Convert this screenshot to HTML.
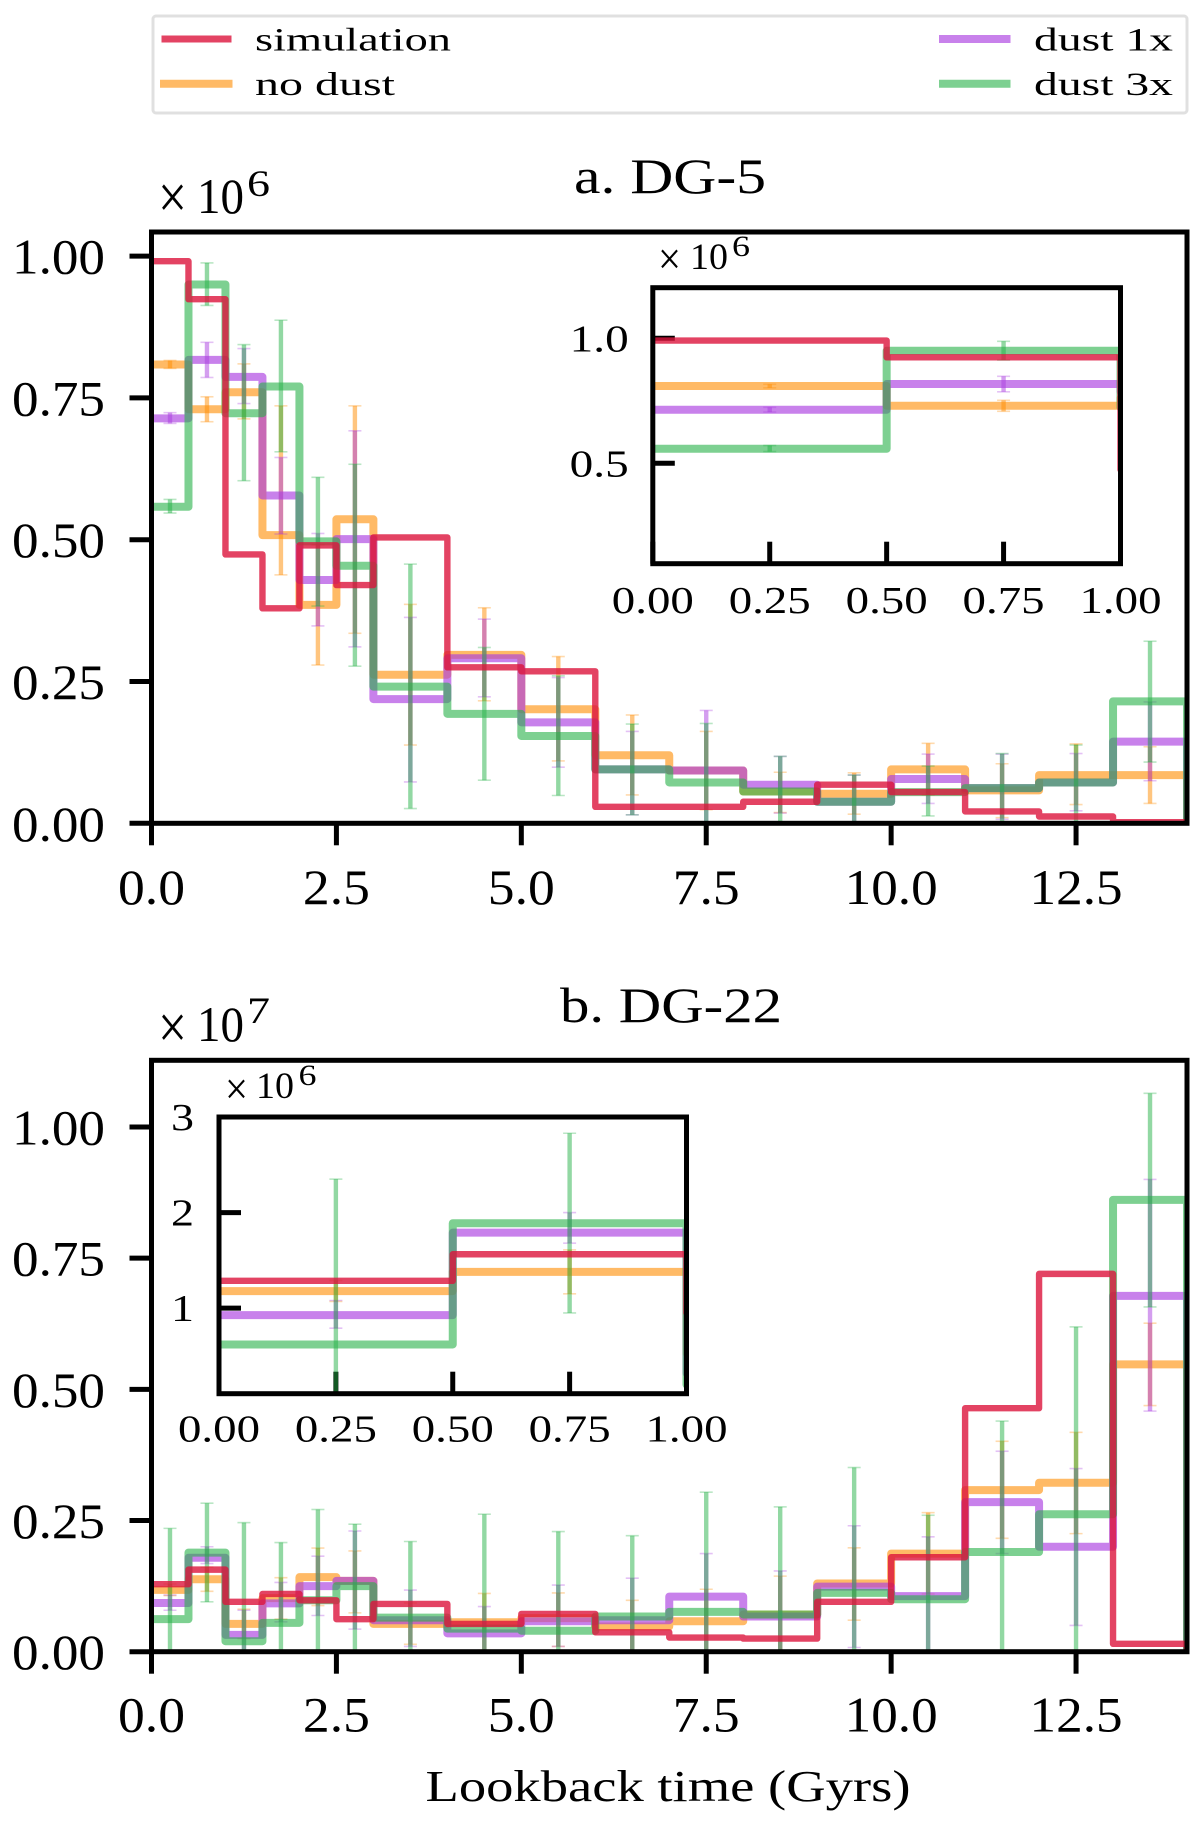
<!DOCTYPE html>
<html lang="en">
<head>
<meta charset="utf-8">
<title>Star formation history: DG-5 and DG-22</title>
<style>
  html, body { margin: 0; padding: 0; background: #fff; }
  svg { display: block; }
  text { font-family: "Liberation Serif", serif; fill: #000; }
</style>
</head>
<body>
<svg id="chart" xmlns="http://www.w3.org/2000/svg" width="1200" height="1825" viewBox="0 0 1200 1825">
  <g>
    <rect x="153" y="16" width="1034" height="97" rx="3" fill="#fff" stroke="#e0e0e0" stroke-width="3"/>
    <line x1="161.5" x2="231.5" y1="39" y2="39" stroke="#dc143c" stroke-opacity="0.8" stroke-width="7"/>
    <text x="255" y="50.5" font-size="33" textLength="196" lengthAdjust="spacingAndGlyphs">simulation</text>
    <line x1="160" x2="232.5" y1="83.7" y2="83.7" stroke="#ff8c00" stroke-opacity="0.6" stroke-width="8"/>
    <text x="255" y="95" font-size="33" textLength="140" lengthAdjust="spacingAndGlyphs">no dust</text>
    <line x1="939" x2="1010.5" y1="39" y2="39" stroke="#aa3de0" stroke-opacity="0.65" stroke-width="8"/>
    <text x="1034" y="50.5" font-size="33" textLength="139" lengthAdjust="spacingAndGlyphs">dust 1x</text>
    <line x1="939" x2="1010.5" y1="83.7" y2="83.7" stroke="#26b148" stroke-opacity="0.6" stroke-width="8"/>
    <text x="1034" y="95" font-size="33" textLength="139" lengthAdjust="spacingAndGlyphs">dust 3x</text>
  </g>

  <text x="574" y="193" font-size="50" textLength="192" lengthAdjust="spacingAndGlyphs">a. DG-5</text>
  <text x="560" y="1022" font-size="50" textLength="222" lengthAdjust="spacingAndGlyphs">b. DG-22</text>

  <text x="158" y="218" font-size="62" textLength="29" lengthAdjust="spacingAndGlyphs">×</text>
  <text x="197" y="213" font-size="50" textLength="47" lengthAdjust="spacingAndGlyphs">10</text>
  <text x="247" y="196" font-size="37" textLength="23" lengthAdjust="spacingAndGlyphs">6</text>
  <text x="158" y="1048" font-size="62" textLength="29" lengthAdjust="spacingAndGlyphs">×</text>
  <text x="197" y="1041" font-size="50" textLength="47" lengthAdjust="spacingAndGlyphs">10</text>
  <text x="247" y="1023" font-size="37" textLength="23" lengthAdjust="spacingAndGlyphs">7</text>

  <text x="658" y="274" font-size="46" textLength="23" lengthAdjust="spacingAndGlyphs">×</text>
  <text x="690" y="269" font-size="37" textLength="38" lengthAdjust="spacingAndGlyphs">10</text>
  <text x="732" y="256" font-size="30" textLength="18" lengthAdjust="spacingAndGlyphs">6</text>
  <text x="225" y="1104" font-size="46" textLength="23" lengthAdjust="spacingAndGlyphs">×</text>
  <text x="256" y="1098" font-size="37" textLength="38" lengthAdjust="spacingAndGlyphs">10</text>
  <text x="298.5" y="1085" font-size="30" textLength="18" lengthAdjust="spacingAndGlyphs">6</text>

  <text x="425.5" y="1801" font-size="44" textLength="485" lengthAdjust="spacingAndGlyphs">Lookback time (Gyrs)</text>
</svg>

<script>
// Histogram bin edges, lookback time in Gyr
const binEdges = [0, 0.5, 1, 1.5, 2, 2.5, 3, 4, 5, 6, 7, 8, 9, 10, 11, 12, 13, 14];

// Tick labels
const mainXTicks = [0, 2.5, 5, 7.5, 10, 12.5];
const mainXTickLabels = ["0.0", "2.5", "5.0", "7.5", "10.0", "12.5"];
const mainYTicks = [0, 0.25, 0.5, 0.75, 1];
const mainYTickLabels = ["0.00", "0.25", "0.50", "0.75", "1.00"];
const insetXTicks = [0, 0.25, 0.5, 0.75, 1];
const insetXTickLabels = ["0.00", "0.25", "0.50", "0.75", "1.00"];
const insetAYTicks = [0.5, 1];
const insetAYTickLabels = ["0.5", "1.0"];
const insetBYTicks = [1, 2, 3];
const insetBYTickLabels = ["1", "2", "3"];

// Panel a, DG-5, units of 1e6
const dg5Simulation = [0.991, 0.924, 0.474, 0.379, 0.490, 0.420, 0.504, 0.275, 0.268, 0.029, 0.029, 0.038, 0.068, 0.055, 0.021, 0.012, 0.002];
const dg5NoDust = [0.809, 0.730, 0.760, 0.508, 0.385, 0.536, 0.262, 0.297, 0.201, 0.120, 0.093, 0.056, 0.052, 0.095, 0.058, 0.085, 0.085];
const dg5NoDustLow = [0.802, 0.708, 0.713, 0.438, 0.279, 0.335, 0.138, 0.216, 0.110, 0.050, 0.024, 0.019, 0.016, 0.050, 0.010, 0.033, 0.035];
const dg5NoDustHigh = [0.816, 0.752, 0.810, 0.736, 0.491, 0.736, 0.386, 0.380, 0.294, 0.191, 0.162, 0.090, 0.089, 0.141, 0.105, 0.140, 0.135];
const dg5Dust1x = [0.714, 0.817, 0.787, 0.578, 0.429, 0.501, 0.219, 0.291, 0.178, 0.095, 0.093, 0.068, 0.038, 0.078, 0.062, 0.072, 0.144];
const dg5Dust1xLow = [0.705, 0.786, 0.740, 0.510, 0.348, 0.311, 0.073, 0.223, 0.099, 0.015, 0.000, 0.018, 0.001, 0.035, 0.007, 0.022, 0.075];
const dg5Dust1xHigh = [0.724, 0.848, 0.837, 0.645, 0.511, 0.692, 0.363, 0.360, 0.257, 0.162, 0.199, 0.118, 0.085, 0.122, 0.122, 0.123, 0.214];
const dg5Dust3x = [0.558, 0.950, 0.723, 0.770, 0.497, 0.454, 0.241, 0.193, 0.154, 0.095, 0.072, 0.056, 0.038, 0.055, 0.062, 0.072, 0.215];
const dg5Dust3xLow = [0.547, 0.913, 0.604, 0.655, 0.383, 0.277, 0.026, 0.076, 0.049, 0.015, 0.000, 0.000, 0.000, 0.013, 0.000, 0.000, 0.108];
const dg5Dust3xHigh = [0.571, 0.988, 0.844, 0.887, 0.610, 0.633, 0.457, 0.310, 0.260, 0.175, 0.176, 0.118, 0.085, 0.101, 0.123, 0.138, 0.321];

// Panel b, DG-22, units of 1e7
const dg22Simulation = [0.1286, 0.1564, 0.095, 0.110, 0.098, 0.062, 0.091, 0.053, 0.072, 0.037, 0.027, 0.025, 0.095, 0.180, 0.464, 0.720, 0.015];
const dg22NoDust = [0.1178, 0.138, 0.053, 0.102, 0.142, 0.135, 0.053, 0.056, 0.064, 0.048, 0.058, 0.071, 0.130, 0.187, 0.308, 0.322, 0.5475];
const dg22NoDustLow = [0.107, 0.115, 0.025, 0.062, 0.088, 0.074, 0.014, 0.003, 0.010, 0.000, 0.000, 0.000, 0.060, 0.110, 0.216, 0.225, 0.469];
const dg22NoDustHigh = [0.129, 0.161, 0.081, 0.141, 0.1975, 0.192, 0.093, 0.111, 0.112, 0.098, 0.119, 0.144, 0.198, 0.265, 0.401, 0.418, 0.626];
const dg22Dust1x = [0.0927, 0.179, 0.032, 0.092, 0.125, 0.135, 0.060, 0.035, 0.058, 0.060, 0.105, 0.067, 0.124, 0.106, 0.285, 0.200, 0.678];
const dg22Dust1xLow = [0.079, 0.168, 0.000, 0.057, 0.069, 0.043, 0.010, 0.000, 0.010, 0.000, 0.000, 0.000, 0.008, 0.000, 0.187, 0.050, 0.4585];
const dg22Dust1xHigh = [0.108, 0.200, 0.079, 0.132, 0.182, 0.230, 0.1175, 0.086, 0.127, 0.140, 0.187, 0.154, 0.240, 0.219, 0.382, 0.349, 0.900];
const dg22Dust3x = [0.062, 0.1889, 0.020, 0.055, 0.098, 0.125, 0.065, 0.044, 0.040, 0.067, 0.076, 0.071, 0.112, 0.100, 0.190, 0.262, 0.861];
const dg22Dust3xLow = [0.000, 0.095, 0.000, 0.000, 0.000, 0.000, 0.000, 0.000, 0.000, 0.000, 0.000, 0.000, 0.000, 0.000, 0.000, 0.000, 0.657];
const dg22Dust3xHigh = [0.235, 0.283, 0.246, 0.208, 0.271, 0.243, 0.210, 0.262, 0.229, 0.221, 0.304, 0.276, 0.351, 0.260, 0.4395, 0.619, 1.064];

const SVG_NS = "http://www.w3.org/2000/svg";
const root = document.getElementById("chart");
const defs = document.createElementNS(SVG_NS, "defs");
root.appendChild(defs);

const RED = { color: "#dc143c", opacity: 0.8, width: 6.4 };
const ORANGE = { color: "#ff8c00", opacity: 0.6, width: 8 };
const PURPLE = { color: "#aa3de0", opacity: 0.65, width: 8 };
const GREEN = { color: "#26b148", opacity: 0.6, width: 8 };

function el(tag, attrs, parent) {
  const node = document.createElementNS(SVG_NS, tag);
  for (const key in attrs) node.setAttribute(key, attrs[key]);
  parent.appendChild(node);
  return node;
}

function linear(d0, d1, r0, r1) {
  return function (v) { return r0 + (v - d0) * (r1 - r0) / (d1 - d0); };
}

function stepPathD(edges, values, sx, sy, factor) {
  let d = "M" + sx(edges[0]).toFixed(2) + " " + sy(values[0] * factor).toFixed(2);
  for (let i = 0; i < values.length; i++) {
    d += "L" + sx(edges[i + 1]).toFixed(2) + " " + sy(values[i] * factor).toFixed(2);
    const next = i + 1 < values.length ? values[i + 1] * factor : 0;
    d += "L" + sx(edges[i + 1]).toFixed(2) + " " + sy(next).toFixed(2);
  }
  return d;
}

function drawStep(parent, name, style, values, sx, sy, factor) {
  const path = el("path", {
    d: stepPathD(binEdges, values, sx, sy, factor),
    fill: "none",
    stroke: style.color,
    "stroke-opacity": style.opacity,
    "stroke-width": style.width,
    "stroke-linejoin": "round"
  }, parent);
  
  
}

function drawErrors(parent, name, style, low, high, sx, sy, factor) {
  const group = el("g", { stroke: style.color }, parent);
  
  
  for (let i = 0; i < low.length; i++) {
    const cx = sx((binEdges[i] + binEdges[i + 1]) / 2);
    const y0 = sy(low[i] * factor);
    const y1 = sy(high[i] * factor);
    const bar = el("line", { x1: cx, x2: cx, y1: y0, y2: y1, "stroke-width": 4.4, "stroke-opacity": 0.5 }, group);
    
    
    const capLow = el("line", { x1: cx - 6.5, x2: cx + 6.5, y1: y0, y2: y0, "stroke-width": 1.6, "stroke-opacity": 0.32 }, group);
    
    
    const capHigh = el("line", { x1: cx - 6.5, x2: cx + 6.5, y1: y1, y2: y1, "stroke-width": 1.6, "stroke-opacity": 0.32 }, group);
    
    
  }
}

function labelWidth(label, digit, period) {
  let w = 0;
  for (const ch of label) w += ch === "." ? period : digit;
  return w;
}

function drawAxes(cfg) {
  const g = el("g", {}, root);
  
  

  const sx = linear(cfg.xMin, cfg.xMax, cfg.left, cfg.right);
  const sy = linear(cfg.yMin, cfg.yMax, cfg.bottom, cfg.top);

  const clip = el("clipPath", { id: cfg.name + "-clip" }, defs);
  el("rect", { x: cfg.left, y: cfg.top, width: cfg.right - cfg.left, height: cfg.bottom - cfg.top }, clip);

  // Y ticks and labels
  const yDir = cfg.inward ? 1 : -1;
  cfg.yTicks.forEach(function (t, i) {
    const y = sy(t);
    const tick = el("line", { x1: cfg.left, x2: cfg.left + yDir * 22, y1: y, y2: y, stroke: "#000", "stroke-width": 5 }, g);
    
    
    const text = el("text", {
      x: cfg.yLabelRight, y: y + cfg.yLabelDrop, "font-size": cfg.fontSize, "text-anchor": "end",
      textLength: labelWidth(cfg.yLabels[i], cfg.digit, cfg.period), lengthAdjust: "spacingAndGlyphs"
    }, g);
    text.textContent = cfg.yLabels[i];
    
    
  });

  // X ticks and labels
  const xDir = cfg.inward ? -1 : 1;
  cfg.xTicks.forEach(function (t, i) {
    const x = sx(t);
    const tick = el("line", { x1: x, x2: x, y1: cfg.bottom, y2: cfg.bottom + xDir * 22, stroke: "#000", "stroke-width": 5 }, g);
    
    
    const text = el("text", {
      x: x, y: cfg.xLabelBaseline, "font-size": cfg.fontSize, "text-anchor": "middle",
      textLength: labelWidth(cfg.xLabels[i], cfg.digit, cfg.period), lengthAdjust: "spacingAndGlyphs"
    }, g);
    text.textContent = cfg.xLabels[i];
    
    
  });

  // Series, clipped to the axes box
  const plot = el("g", { "clip-path": "url(#" + cfg.name + "-clip)" }, g);
  
  
  const f = cfg.factor;
  drawStep(plot, 'no-dust-steps', ORANGE, cfg.noDust, sx, sy, f);
  drawErrors(plot, 'no-dust-error-bars', ORANGE, cfg.noDustLow, cfg.noDustHigh, sx, sy, f);
  drawStep(plot, 'dust-1x-steps', PURPLE, cfg.dust1x, sx, sy, f);
  drawErrors(plot, 'dust-1x-error-bars', PURPLE, cfg.dust1xLow, cfg.dust1xHigh, sx, sy, f);
  drawStep(plot, 'dust-3x-steps', GREEN, cfg.dust3x, sx, sy, f);
  drawErrors(plot, 'dust-3x-error-bars', GREEN, cfg.dust3xLow, cfg.dust3xHigh, sx, sy, f);
  drawStep(plot, 'simulation-steps', RED, cfg.simulation, sx, sy, f);

  // Axes frame
  const frame = el("rect", {
    x: cfg.left, y: cfg.top, width: cfg.right - cfg.left, height: cfg.bottom - cfg.top,
    fill: "none", stroke: "#000", "stroke-width": 5
  }, g);
  
  
}

const dg5Series = {
  simulation: dg5Simulation, noDust: dg5NoDust, noDustLow: dg5NoDustLow, noDustHigh: dg5NoDustHigh,
  dust1x: dg5Dust1x, dust1xLow: dg5Dust1xLow, dust1xHigh: dg5Dust1xHigh,
  dust3x: dg5Dust3x, dust3xLow: dg5Dust3xLow, dust3xHigh: dg5Dust3xHigh
};
const dg22Series = {
  simulation: dg22Simulation, noDust: dg22NoDust, noDustLow: dg22NoDustLow, noDustHigh: dg22NoDustHigh,
  dust1x: dg22Dust1x, dust1xLow: dg22Dust1xLow, dust1xHigh: dg22Dust1xHigh,
  dust3x: dg22Dust3x, dust3xLow: dg22Dust3xLow, dust3xHigh: dg22Dust3xHigh
};

const mainStyle = { xMin: 0, xMax: 14, left: 151.5, right: 1187, xTicks: mainXTicks, xLabels: mainXTickLabels,
  yTicks: mainYTicks, yLabels: mainYTickLabels, yLabelRight: 105, yLabelDrop: 17.5, fontSize: 50, digit: 26, period: 15, inward: false, factor: 1 };
const insetStyle = { xMin: 0, xMax: 1, xTicks: insetXTicks, xLabels: insetXTickLabels, yLabelDrop: 13, fontSize: 38, digit: 23, period: 13, inward: true };

drawAxes(Object.assign({}, mainStyle, dg5Series, { name: "panel-a-dg-5", top: 232, bottom: 823.3, yMin: 0, yMax: 1.0425, xLabelBaseline: 904 }));
drawAxes(Object.assign({}, insetStyle, dg5Series, { name: "panel-a-inset", left: 652.8, right: 1120.5, top: 287.7, bottom: 563.7,
  yMin: 0.0984, yMax: 1.2024, xLabelBaseline: 613, yTicks: insetAYTicks, yLabels: insetAYTickLabels, yLabelRight: 628.7, factor: 1 }));
drawAxes(Object.assign({}, mainStyle, dg22Series, { name: "panel-b-dg-22", top: 1060.3, bottom: 1651.7, yMin: 0, yMax: 1.127, xLabelBaseline: 1731.7 }));
drawAxes(Object.assign({}, insetStyle, dg22Series, { name: "panel-b-inset", left: 219, right: 686.5, top: 1117, bottom: 1393.7,
  yMin: 0.105, yMax: 3.0, xLabelBaseline: 1441.7, yTicks: insetBYTicks, yLabels: insetBYTickLabels, yLabelRight: 194, factor: 10 }));
</script>
</body>
</html>
